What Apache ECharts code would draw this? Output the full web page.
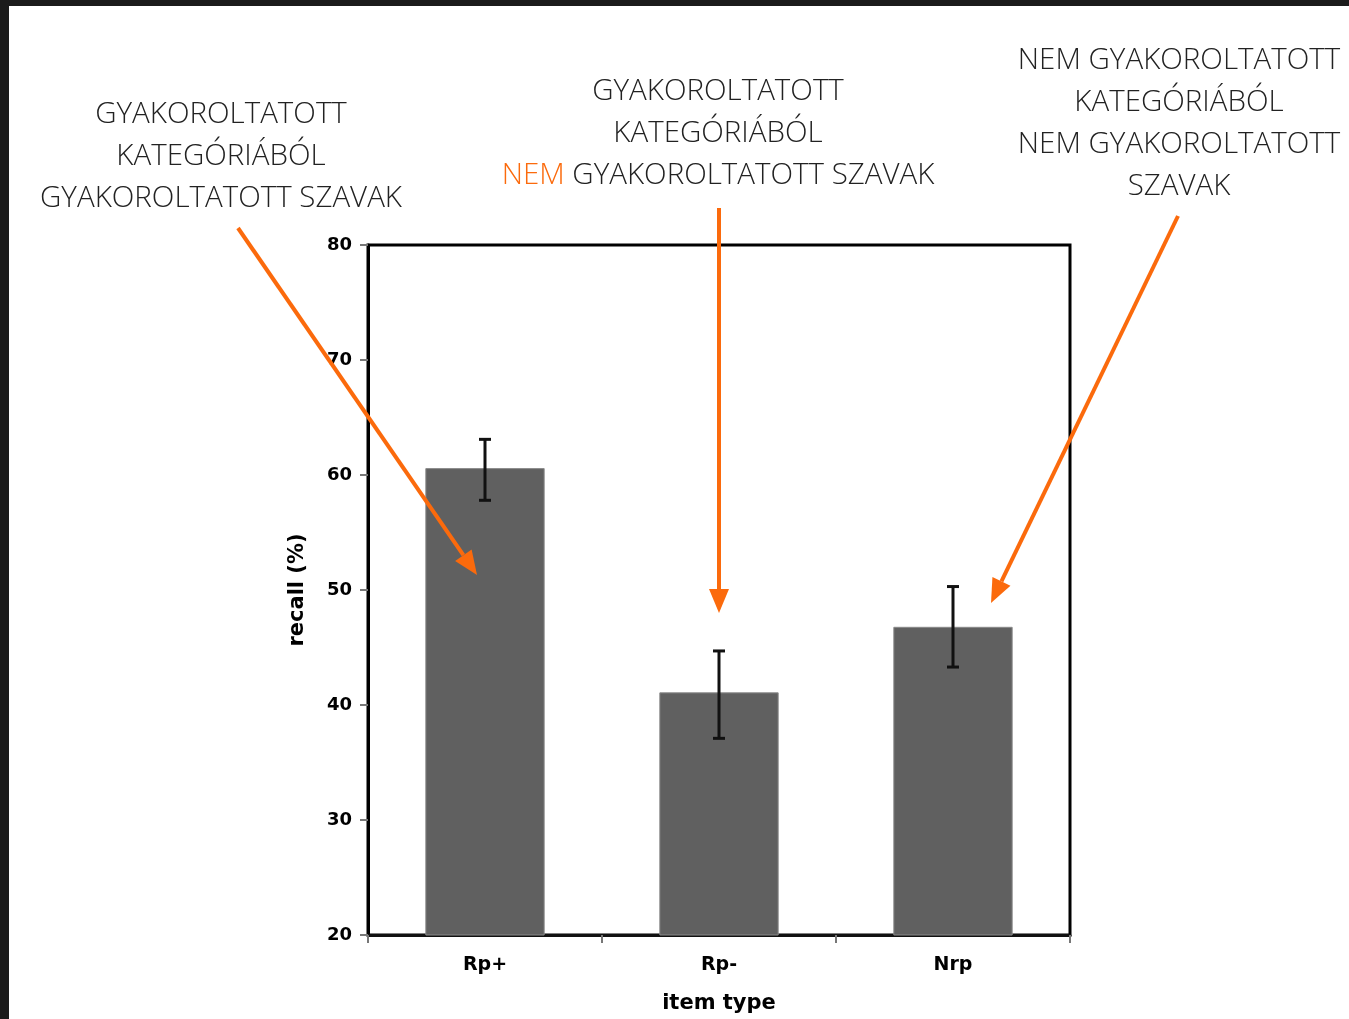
<!DOCTYPE html>
<html><head><meta charset="utf-8">
<script src="https://cdn.jsdelivr.net/npm/echarts@6/dist/echarts.min.js"></script>
<style>
html,body{margin:0;padding:0;background:#1b1b1b;width:1349px;height:1019px;overflow:hidden}
#c{position:absolute;left:9px;top:6px;width:1340px;height:1013px;background:#fff}
</style></head>
<body><div id="c"></div>
<script>
const categories = ['Rp+', 'Rp-', 'Nrp'];
const recall = [60.6, 41.1, 46.8];
const errLow = [57.8, 37.1, 43.3];
const errHigh = [63.1, 44.7, 50.3];
const yTicks = {min: 20, max: 80, interval: 10};

const ORANGE = '#fb6a0c';
const TXT = '#222222';
const OX = 9, OY = 6; // container offset
const FS = 29.5;
const AFONT = 'DejaVu Sans';

function arrow(x1, y1, x2, y2) {
  x1 -= OX; x2 -= OX; y1 -= OY; y2 -= OY;
  const ang = Math.atan2(y2 - y1, x2 - x1);
  const L = 24, W = 10;
  const bx = x2 - L * Math.cos(ang), by = y2 - L * Math.sin(ang);
  const px = -Math.sin(ang), py = Math.cos(ang);
  return [
    {type: 'line', shape: {x1, y1, x2: bx, y2: by}, style: {stroke: ORANGE, lineWidth: 4}, z: 100},
    {type: 'polygon', shape: {points: [[x2, y2], [bx + px * W, by + py * W], [bx - px * W, by - py * W]]}, style: {fill: ORANGE}, z: 100}
  ];
}
function txt(x, y, text, rich) {
  return {type: 'text', x: x - OX, y: y - OY, z: 100, style: {
    text, x: 0, y: 0, align: 'center', verticalAlign: 'middle',
    fontFamily: 'Open Sans', fontWeight: 300, fontSize: FS, fill: TXT, rich: rich
  }};
}
const richStyles = {
  o: {fill: ORANGE, fontSize: FS, fontFamily: 'Open Sans', fontWeight: 300},
  k: {fill: TXT, fontSize: FS, fontFamily: 'Open Sans', fontWeight: 300}
};

const chart = echarts.init(document.getElementById('c'));
const option = {
  animation: false,
  backgroundColor: '#fff',
  grid: {left: 359, top: 239, right: 279, bottom: 84, show: true, borderColor: '#000', borderWidth: 3, backgroundColor: 'transparent'},
  xAxis: {
    type: 'category', data: categories,
    axisLine: {lineStyle: {color: '#111', width: 3}},
    axisTick: {show: true, alignWithLabel: false, length: 8, lineStyle: {color: '#777', width: 2}},
    axisLabel: {color: '#000', fontFamily: AFONT, fontWeight: 'bold', fontSize: 19, margin: 21},
    name: 'item type', nameLocation: 'middle', nameGap: 58,
    nameTextStyle: {color: '#000', fontFamily: AFONT, fontWeight: 'bold', fontSize: 21}
  },
  yAxis: {
    type: 'value', min: yTicks.min, max: yTicks.max, interval: yTicks.interval,
    splitLine: {show: false},
    axisLine: {show: true, lineStyle: {color: '#000', width: 3}},
    axisTick: {show: true, length: 8, lineStyle: {color: '#777', width: 2}},
    axisLabel: {color: '#000', fontFamily: AFONT, fontWeight: 'bold', fontSize: 18, margin: 16},
    name: 'recall (%)', nameLocation: 'middle', nameGap: 60, nameRotate: 90,
    nameTextStyle: {color: '#000', fontFamily: AFONT, fontWeight: 'bold', fontSize: 21}
  },
  series: [
    {type: 'bar', data: recall, barWidth: '51%', itemStyle: {color: '#606060', borderColor: '#8a8a8a', borderWidth: 1}, z: 2},
    {type: 'custom', z: 5,
      data: categories.map((c, i) => [i, errLow[i], errHigh[i]]),
      renderItem: function (params, api) {
        const lo = api.coord([api.value(0), api.value(1)]);
        const hi = api.coord([api.value(0), api.value(2)]);
        const hw = 6;
        const st = {stroke: '#111', lineWidth: 3};
        return {type: 'group', children: [
          {type: 'line', shape: {x1: hi[0], y1: hi[1], x2: lo[0], y2: lo[1]}, style: st},
          {type: 'line', shape: {x1: hi[0] - hw, y1: hi[1], x2: hi[0] + hw, y2: hi[1]}, style: st},
          {type: 'line', shape: {x1: lo[0] - hw, y1: lo[1], x2: lo[0] + hw, y2: lo[1]}, style: st}
        ]};
      }
    }
  ],
  graphic: [
    txt(221, 115, 'GYAKOROLTATOTT'),
    txt(221, 157, 'KATEGÓRIÁBÓL'),
    txt(221, 199, 'GYAKOROLTATOTT SZAVAK'),
    txt(718, 92, 'GYAKOROLTATOTT'),
    txt(718, 134, 'KATEGÓRIÁBÓL'),
    txt(718, 176, '{o|NEM}{k| GYAKOROLTATOTT SZAVAK}', richStyles),
    txt(1179, 61, 'NEM GYAKOROLTATOTT'),
    txt(1179, 103, 'KATEGÓRIÁBÓL'),
    txt(1179, 145, 'NEM GYAKOROLTATOTT'),
    txt(1179, 187, 'SZAVAK'),
    ...arrow(238, 228, 477, 575),
    ...arrow(719, 208, 719, 613),
    ...arrow(1178, 216, 991, 603)
  ]
};
chart.setOption(option);
</script>
</body></html>
